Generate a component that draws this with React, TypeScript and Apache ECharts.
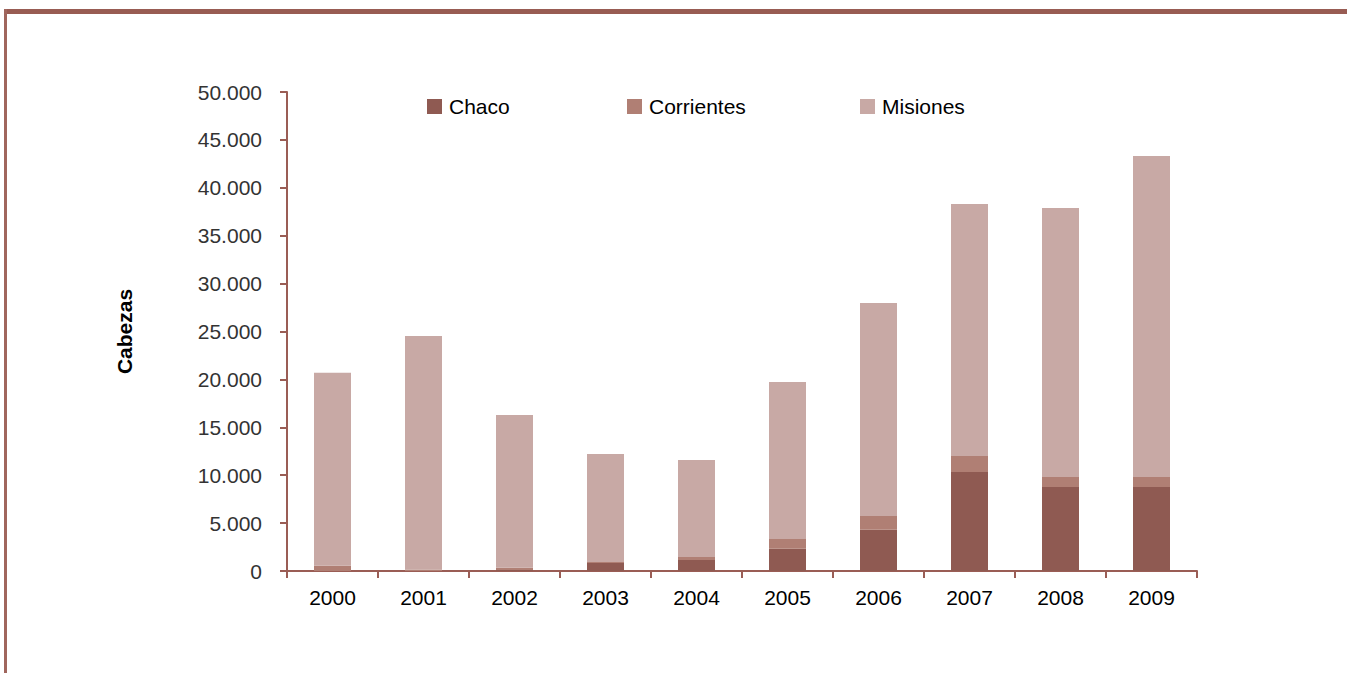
import React, { useEffect, useRef } from "react";
import * as echarts from "echarts";

const years = ["2000", "2001", "2002", "2003", "2004", "2005", "2006", "2007", "2008", "2009"];
const chaco = [0, 0, 100, 835, 1150, 2330, 4310, 10330, 8770, 8770];
const corrientes = [550, 150, 250, 105, 310, 1010, 1430, 1670, 1040, 1040];
const misiones = [20150, 24380, 15930, 11270, 10130, 16390, 22230, 26310, 28080, 33510];

const seriesNames = ["Chaco", "Corrientes", "Misiones"];
const seriesColors = ["#8f5a52", "#b07f74", "#c8a9a5"];
const axisColor = "#9a5d55";
const fontFamily = "'Liberation Sans', Arial, sans-serif";

function fmt(v: number): string {
  const s = String(Math.round(v));
  return s.replace(/\B(?=(\d{3})+(?!\d))/g, ".");
}

export default function App() {
  const ref = useRef<HTMLDivElement>(null);
  useEffect(() => {
    if (!ref.current) return;
    const chart = echarts.init(ref.current, null, { renderer: "svg" });
    const data = [chaco, corrientes, misiones];
    const legendLefts = [427, 627, 860];
    chart.setOption({
      animation: false,
      backgroundColor: "#ffffff",
      textStyle: { fontFamily },
      legend: seriesNames.map((n, i) => ({
        data: [n],
        left: legendLefts[i],
        top: 96,
        itemWidth: 15,
        itemHeight: 15,
        icon: "rect",
        itemGap: 5,
        padding: 0,
        textStyle: { fontSize: 21, color: "#000", fontFamily, padding: [0, 0, 0, 2] },
      })),
      grid: { left: 287, right: 150, top: 92, bottom: 102, containLabel: false },
      xAxis: {
        type: "category",
        data: years,
        boundaryGap: true,
        axisLine: { show: true, lineStyle: { color: axisColor, width: 2 } },
        axisTick: { show: true, length: 7, lineStyle: { color: axisColor, width: 2 }, alignWithLabel: false },
        axisLabel: { color: "#000", fontSize: 21, margin: 16, fontFamily },
        splitLine: { show: false },
      },
      yAxis: {
        type: "value",
        min: 0,
        max: 50000,
        interval: 5000,
        name: "Cabezas",
        nameLocation: "middle",
        nameGap: 152,
        nameTextStyle: { fontSize: 21, fontWeight: "bold", color: "#000", fontFamily },
        axisLine: { show: true, lineStyle: { color: axisColor, width: 2 } },
        axisTick: { show: true, length: 7, lineStyle: { color: axisColor, width: 2 } },
        axisLabel: { color: "#333", fontSize: 21, margin: 25, fontFamily, formatter: (v: number) => fmt(v) },
        splitLine: { show: false },
      },
      series: seriesNames.map((n, i) => ({
        name: n,
        type: "bar",
        stack: "total",
        data: data[i],
        barWidth: 37,
        itemStyle: { color: seriesColors[i] },
      })),
      graphic: [
        { type: "rect", shape: { x: 4, y: 9, width: 1343, height: 5 }, style: { fill: "#985c53" }, silent: true },
        { type: "rect", shape: { x: 4, y: 9, width: 3, height: 664 }, style: { fill: "#a0665d" }, silent: true },
      ],
    });
    return () => chart.dispose();
  }, []);
  return (
    <div
      ref={ref}
      style={{ position: "fixed", left: 0, top: 0, width: 1347, height: 673 }}
    />
  );
}
